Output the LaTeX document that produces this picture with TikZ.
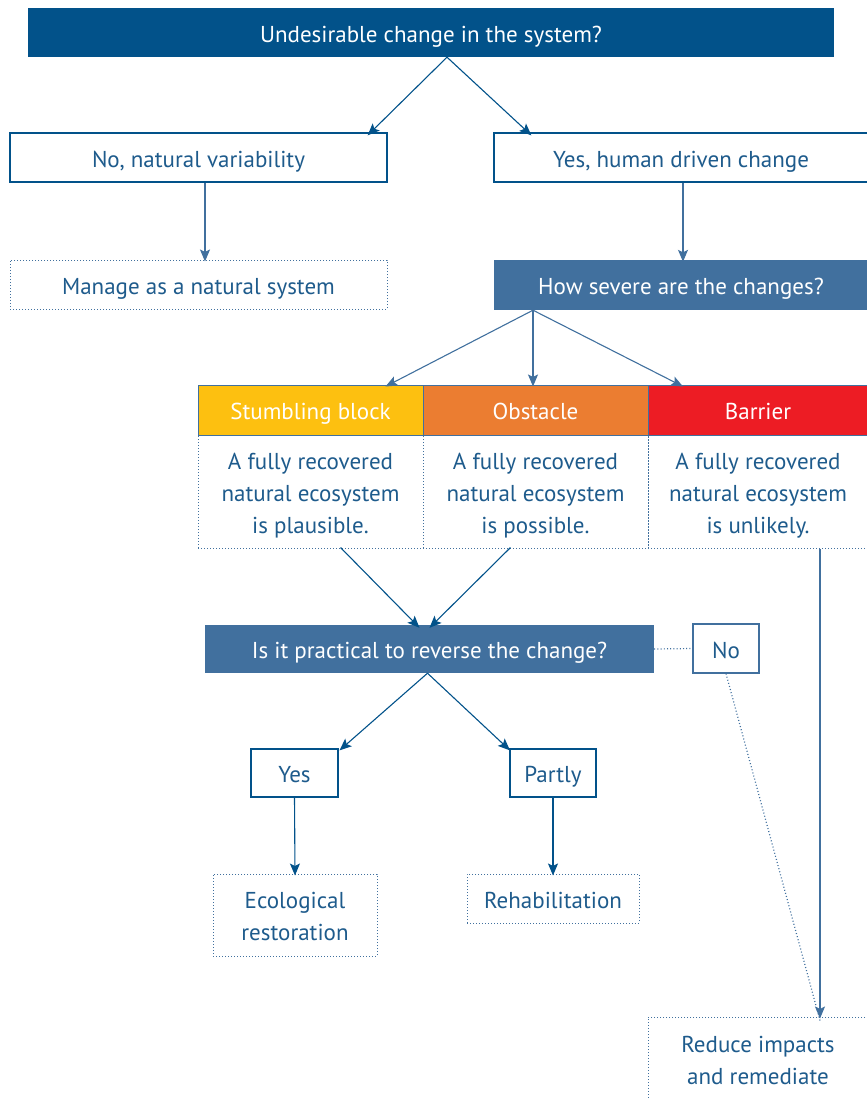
\documentclass[tikz,border=0pt]{standalone}
\usepackage{fontspec}
\setmainfont{PT Sans}
\usetikzlibrary{arrows.meta}
\definecolor{dblue}{HTML}{02528A}
\definecolor{steel}{HTML}{41709E}
\definecolor{tblue}{HTML}{1E5B8C}
\definecolor{syellow}{HTML}{FDC010}
\definecolor{sorange}{HTML}{EB7D31}
\definecolor{sred}{HTML}{ED1C24}
\newcommand\lowtxt[1]{\raisebox{-3.5pt}[\height][\depth]{\begin{tabular}{@{}c@{}}#1\end{tabular}}}
\begin{document}
\begin{tikzpicture}[x=1pt,y=-1pt,
  every node/.style={font=\fontsize{23}{32}\selectfont, align=center, inner sep=0pt},
  solidbox/.style={draw=dblue, line width=1.2pt, fill=white, text=tblue},
  dotbox/.style={draw=steel, line width=1pt, dash pattern=on 1pt off 2pt, text=tblue},
  darkbox/.style={fill=dblue, text=white},
  steelbox/.style={fill=steel, text=white},
  head/.style={draw=steel, line width=1pt, text=white},
  arr/.style={draw=dblue, line width=1.1pt, -{Stealth[length=12pt,width=10pt,inset=2.5pt]}},
  sarr/.style={draw=steel, line width=1.1pt, -{Stealth[length=12pt,width=10pt,inset=2.5pt]}},
  dotline/.style={draw=steel, line width=1.2pt, dash pattern=on 1pt off 2.2pt}
]
\useasboundingbox (0,0) rectangle (867,1098);

\node[darkbox, minimum width=806, minimum height=49] (top) at (431,32.5) {\lowtxt{Undesirable change in the system?}};
\node[solidbox, minimum width=377, minimum height=49] (no) at (198.5,157.5) {\lowtxt{No, natural variability}};
\node[solidbox, minimum width=374, minimum height=49] (yes) at (681,157.5) {\lowtxt{Yes, human driven change}};
\node[dotbox, minimum width=377, minimum height=49] (manage) at (198.5,284.5) {\lowtxt{Manage as a natural system}};
\node[steelbox, minimum width=374, minimum height=50] (severe) at (681,285) {\lowtxt{How severe are the changes?}};

\node[head, fill=syellow, minimum width=225, minimum height=50] (stumble) at (310.5,410) {\lowtxt{Stumbling block}};
\node[head, fill=sorange, minimum width=225, minimum height=50] (obstacle) at (535.5,410) {\lowtxt{Obstacle}};
\node[head, fill=sred, minimum width=220, minimum height=50] (barrier) at (758,410) {\lowtxt{Barrier}};

\node[dotbox, minimum width=225, minimum height=113] (t1) at (310.5,491.5) {\lowtxt{A fully recovered\\natural ecosystem\\is plausible.}};
\node[dotbox, minimum width=225, minimum height=113] (t2) at (535.5,491.5) {\lowtxt{A fully recovered\\natural ecosystem\\is possible.}};
\node[dotbox, minimum width=220, minimum height=113] (t3) at (758,491.5) {\lowtxt{A fully recovered\\natural ecosystem\\is unlikely.}};

\node[steelbox, minimum width=449, minimum height=48] (practical) at (429.5,649) {\lowtxt{Is it practical to reverse the change?}};
\node[solidbox, draw=steel, minimum width=66, minimum height=49] (nobox) at (726,648.5) {\lowtxt{No}};
\node[solidbox, minimum width=87, minimum height=48] (yesbox) at (294.5,773) {\lowtxt{Yes}};
\node[solidbox, minimum width=86, minimum height=48] (partly) at (553,773) {\lowtxt{Partly}};
\node[dotbox, minimum width=164, minimum height=82] (eco) at (295,915) {\lowtxt{Ecological\\restoration}};
\node[dotbox, minimum width=172, minimum height=49] (rehab) at (553,898.5) {\lowtxt{Rehabilitation}};
\node[dotbox, minimum width=220, minimum height=83] (reduce) at (758,1058.5) {\lowtxt{Reduce impacts\\and remediate}};

% connectors
\draw[arr] ([xshift=16]top.south) -- ([xshift=-20,yshift=-3]no.north east);
\draw[arr] ([xshift=16]top.south) -- ([xshift=38,yshift=-3]yes.north west);
\draw[sarr] ([xshift=6.5]no.south) -- ([xshift=6.5,yshift=-2]manage.north);
\draw[sarr] ([xshift=2]yes.south) -- ([xshift=2,yshift=-2]severe.north);
\draw[sarr] ([xshift=-148]severe.south) -- ([xshift=75,yshift=-2]stumble.north);
\draw[sarr] ([xshift=-148]severe.south) -- ([xshift=-2.5,yshift=-2]obstacle.north);
\draw[sarr] ([xshift=-148]severe.south) -- ([xshift=-75,yshift=-2]barrier.north);
\draw[arr] ([xshift=30,yshift=1]t1.south) -- ([xshift=-10,yshift=-3]practical.north);
\draw[arr] ([xshift=-25,yshift=1]t2.south) -- ([xshift=0,yshift=-3]practical.north);
\draw[dotline] (practical.east) -- (nobox.west);
\draw[sarr] ([xshift=62]t3.south) -- ([xshift=62,yshift=-2]reduce.north);
\draw[dotline] (nobox.south) -- ([xshift=62,yshift=-4]reduce.north);
\draw[arr] ([xshift=-2]practical.south) -- ([xshift=45,yshift=-2]yesbox.north);
\draw[arr] ([xshift=-2]practical.south) -- ([xshift=-43,yshift=-2]partly.north);
\draw[arr] (yesbox.south) -- ([yshift=-2]eco.north);
\draw[arr] (partly.south) -- ([yshift=-2]rehab.north);
\end{tikzpicture}
\end{document}
